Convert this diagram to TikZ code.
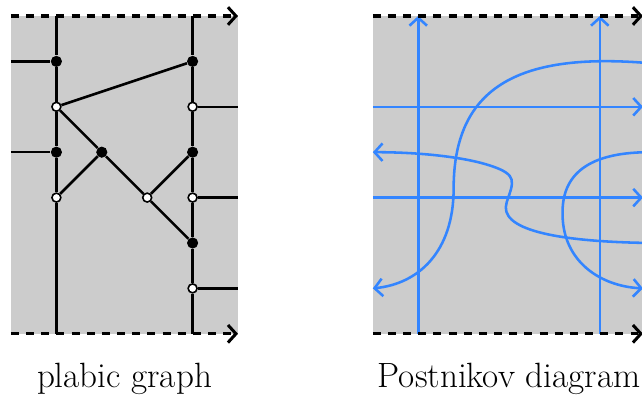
\documentclass[tikz,border=0pt]{standalone}
\usetikzlibrary{arrows.meta}
\definecolor{pgray}{RGB}{204,204,204}
\definecolor{pblue}{RGB}{51,133,255}
\begin{document}
\begin{tikzpicture}[x=1cm,y=-1cm,
  wire/.style={line width=1.6pt},
  bnode/.style={circle,fill=black,inner sep=0pt,minimum size=7pt},
  wnode/.style={circle,draw=black,fill=white,line width=1pt,inner sep=0pt,minimum size=5.6pt},
  bound/.style={line width=1.9pt,dash pattern=on 5pt off 4.5pt,-{Straight Barb[length=5pt,width=11pt]}},
  strand/.style={pblue,line width=1.6pt},
  strandarrow/.style={strand,-{Straight Barb[length=5pt,width=11pt]}},
  caption/.style={anchor=base,inner sep=0pt,font=\fontsize{22}{26}\selectfont}]
\useasboundingbox (-0.2423,-0.3524) rectangle (13.899,8.392);

% ---------- left panel: plabic graph ----------
\fill[pgray] (0,0) rectangle (5,7);
\coordinate (Lt1) at (1,0);
\coordinate (Lb1) at (1,7);
\coordinate (Lt4) at (4,0);
\coordinate (Lb4) at (4,7);
\coordinate (sL1) at (0,1);
\coordinate (sL3) at (0,3);
\coordinate (sR2) at (5,2);
\coordinate (sR4) at (5,4);
\coordinate (sR6) at (5,6);
\coordinate (dTL) at (0,0);
\coordinate (dTR) at (5,0);
\coordinate (dBL) at (0,7);
\coordinate (dBR) at (5,7);

\node[bnode] (b1) at (1,1) {};
\node[bnode] (b2) at (4,1) {};
\node[bnode] (b3) at (1,3) {};
\node[bnode] (b4) at (2,3) {};
\node[bnode] (b5) at (4,3) {};
\node[bnode] (b6) at (4,5) {};
\node[wnode] (w1) at (1,2) {};
\node[wnode] (w2) at (4,2) {};
\node[wnode] (w3) at (1,4) {};
\node[wnode] (w4) at (3,4) {};
\node[wnode] (w5) at (4,4) {};
\node[wnode] (w6) at (4,6) {};

\draw[wire] (Lt1) -- (b1) -- (w1) -- (b3) -- (w3) -- (Lb1);
\draw[wire] (Lt4) -- (b2) -- (w2) -- (b5) -- (w5) -- (b6) -- (w6) -- (Lb4);
\draw[wire] (sL1) -- (b1);
\draw[wire] (sL3) -- (b3);
\draw[wire] (w2) -- (sR2);
\draw[wire] (w5) -- (sR4);
\draw[wire] (w6) -- (sR6);
\draw[wire] (w1) -- (b2);
\draw[wire] (w1) -- (b4) -- (w4) -- (b6);
\draw[wire] (w3) -- (b4);
\draw[wire] (w4) -- (b5);

\draw[bound] (dTL) -- (dTR);
\draw[bound] (dBL) -- (dBR);

\node[caption] (cap1) at (2.5,8.19) {plabic graph};

% ---------- right panel: Postnikov diagram ----------
\begin{scope}[shift={(7.97,0)}]
\fill[pgray] (0,0) rectangle (5.95,7);
\coordinate (vAb) at (1,7);
\coordinate (vAt) at (1,0);
\coordinate (vBb) at (5,7);
\coordinate (vBt) at (5,0);
\coordinate (h2l) at (0,2);
\coordinate (h2r) at (5.95,2);
\coordinate (h4l) at (0,4);
\coordinate (h4r) at (5.95,4);
\coordinate (pTL) at (0,0);
\coordinate (pTR) at (5.95,0);
\coordinate (pBL) at (0,7);
\coordinate (pBR) at (5.95,7);

\draw[strandarrow] (vAb) -- (vAt);
\draw[strandarrow] (vBb) -- (vBt);
\draw[strandarrow] (h2l) -- (h2r);
\draw[strandarrow] (h4l) -- (h4r);

\draw[strandarrow] (6.1,1.04) .. controls (3.3,0.8) and (1.78,1.5) .. (1.78,3.8)
  .. controls (1.78,5.2) and (1.0,5.9) .. (0,6);
\draw[strandarrow] (6.1,5.0) .. controls (4.0,4.97) and (2.75,4.7) .. (2.95,4.1)
  .. controls (3.1,3.65) and (3.2,3.5) .. (2.6,3.3)
  .. controls (2.0,3.1) and (1.0,3.0) .. (0,3.0);
\draw[strandarrow] (6.1,3) .. controls (4.6,3.0) and (4.15,3.6) .. (4.18,4.4)
  .. controls (4.2,5.4) and (5.0,5.95) .. (5.95,6);

\draw[bound] (pTL) -- (pTR);
\draw[bound] (pBL) -- (pBR);

\node[caption] (cap2) at (3,8.19) {Postnikov diagram};
\end{scope}
\end{tikzpicture}
\end{document}
